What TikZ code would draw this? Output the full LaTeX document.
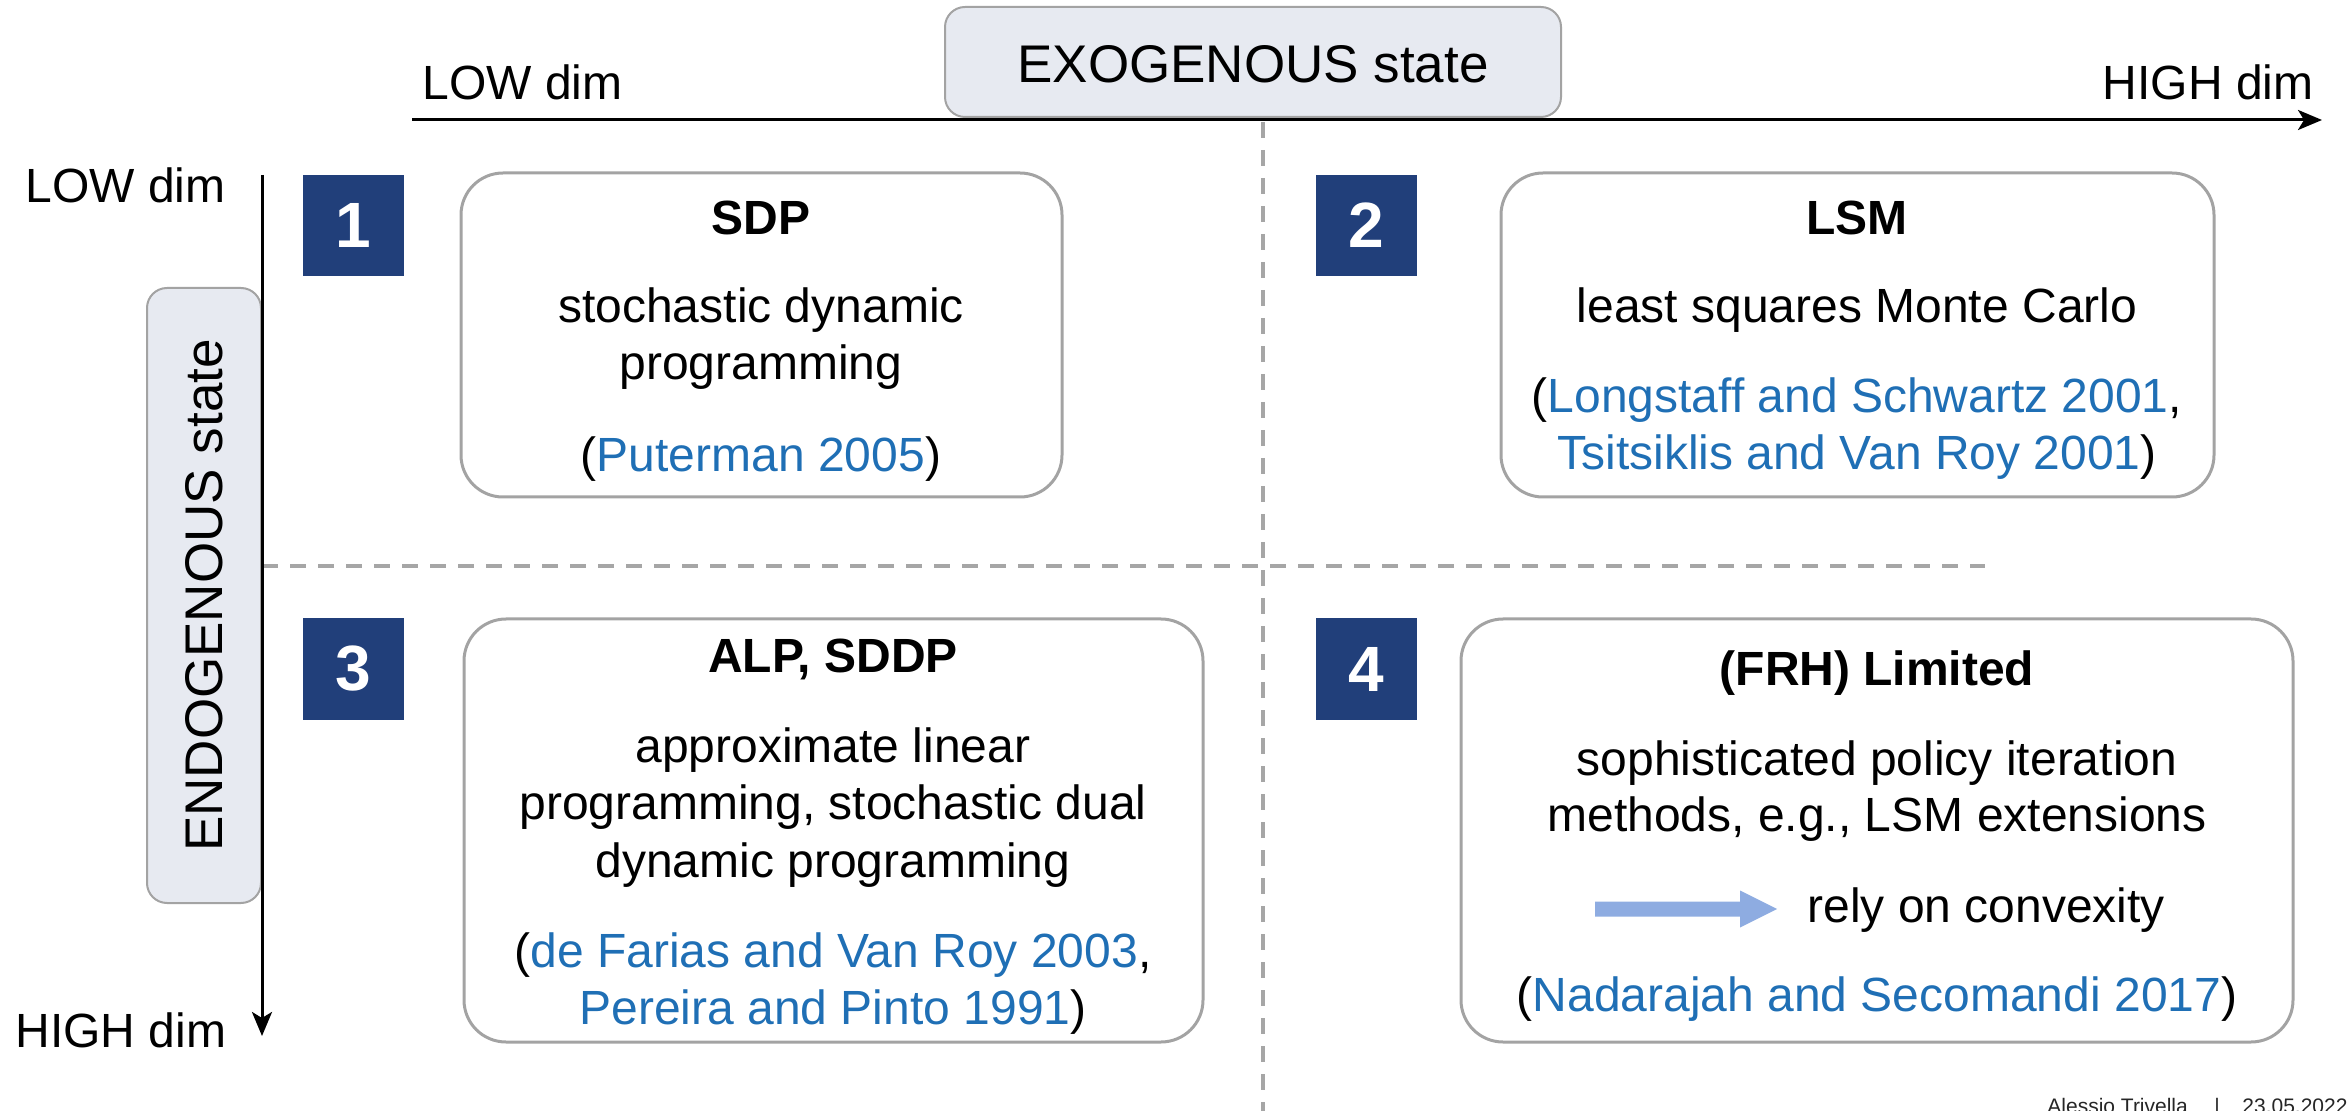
\documentclass[tikz,border=0pt]{standalone}
\usepackage{fontspec}
\setmainfont{Liberation Sans}
\usetikzlibrary{arrows.meta}
\definecolor{navy}{HTML}{213F7A}
\definecolor{lblfill}{HTML}{E7EAF1}
\definecolor{boxgray}{HTML}{A3A3A3}
\definecolor{citeblue}{HTML}{1F6FB5}
\definecolor{arrowblue}{HTML}{8EACE1}
\definecolor{dashgray}{HTML}{A6A6A6}
\newcommand{\cit}[1]{\textcolor{citeblue}{#1}}
\begin{document}
\begin{tikzpicture}[x=0.5pt,y=-0.5pt,
  txt/.style={font=\fontsize{24}{28}\selectfont, inner sep=0pt, anchor=base},
  numbox/.style={fill=navy, minimum size=50.5pt, inner sep=0pt, text=white, font=\fontsize{32}{36}\selectfont\bfseries},
  card/.style={draw=boxgray, line width=1.5pt, rounded corners=21pt, inner sep=0pt},
  lbl/.style={draw=boxgray, fill=lblfill, line width=1pt, rounded corners=10pt, inner sep=0pt, font=\fontsize{26.5}{30}\selectfont},
  axis/.style={line width=1.5pt, -{Stealth[length=12pt,width=10pt,inset=3pt]}},
  grid/.style={dashgray, line width=2pt, dash pattern=on 8pt off 6pt}
]
\useasboundingbox (0,0) rectangle (2349,1111);
\clip (0,0) rectangle (2349,1111);

% dashed quadrant separators
\coordinate (vtop) at (1263,122);
\coordinate (vbot) at (1263,1111);
\coordinate (hl) at (262,566);
\coordinate (hr) at (1985,566);
\draw[grid] (vtop) -- (vbot);
\draw[grid] (hl) -- (hr);

% axis labels boxes
\node[lbl, minimum width=308pt, minimum height=55pt] (exo) at (1253,62) {};
\node[font=\fontsize{26.5}{30}\selectfont, inner sep=0pt] (exot) at (1253,64) {EXOGENOUS state};
\node[lbl, minimum width=307.5pt, minimum height=57pt, rotate=90] (endo) at (204,595.5) {ENDOGENOUS state};

% axes
\coordinate (xs) at (412,120);
\coordinate (xe) at (2322,120);
\coordinate (ys) at (262,175);
\coordinate (ye) at (262,1036);
\draw[axis] (xs) -- (xe);
\draw[axis] (ys) -- (ye);

\node[txt, anchor=base west] (xlow) at (422,100) {LOW dim};
\node[txt, anchor=base east] (xhigh) at (2314,100) {HIGH dim};
\node[txt, anchor=base west] (ylow) at (25,203) {LOW dim};
\node[txt, anchor=base west] (yhigh) at (15,1047) {HIGH dim};

% number boxes
\node[numbox] (n1) at (353.5,225.5) {1};
\node[numbox] (n2) at (1366,225.5) {2};
\node[numbox] (n3) at (353.5,669) {3};
\node[numbox] (n4) at (1366,669) {4};

% cards
\node[card, minimum width=300.5pt, minimum height=162pt] (c1) at (761.5,335) {};
\node[card, minimum width=356.5pt, minimum height=162pt] (c2) at (1857.5,335) {};
\node[card, minimum width=369.5pt, minimum height=211.5pt] (c3) at (833.5,830.5) {};
\node[card, minimum width=416pt, minimum height=211.5pt] (c4) at (1877,830.5) {};

% card 1
\node[txt] (t1a) at (761,235) {\bfseries SDP};
\node[txt] (t1b) at (761,323) {stochastic dynamic};
\node[txt] (t1c) at (761,380) {programming};
\node[txt] (t1d) at (761,472) {(\cit{Puterman 2005})};

% card 2
\node[txt] (t2a) at (1857,235) {\bfseries LSM};
\node[txt] (t2b) at (1857,323) {least squares Monte Carlo};
\node[txt] (t2c) at (1857,413) {(\cit{Longstaff and Schwartz 2001},};
\node[txt] (t2d) at (1857,470) {\cit{Tsitsiklis and Van Roy 2001})};

% card 3
\node[txt] (t3a) at (833,673) {\bfseries ALP, SDDP};
\node[txt] (t3b) at (833,762) {approximate linear};
\node[txt] (t3c) at (833,819) {programming, stochastic dual};
\node[txt] (t3d) at (833,877) {dynamic programming};
\node[txt] (t3e) at (833,967) {(\cit{de Farias and Van Roy 2003},};
\node[txt] (t3f) at (833,1024) {\cit{Pereira and Pinto 1991})};

% card 4
\node[txt] (t4a) at (1877,685) {\bfseries (FRH) Limited};
\node[txt] (t4b) at (1877,775) {sophisticated policy iteration};
\node[txt] (t4c) at (1877,831) {methods, e.g., LSM extensions};
\node[txt, anchor=base west] (t4d) at (1807,922) {rely on convexity};
\node[txt] (t4e) at (1877,1011) {(\cit{Nadarajah and Secomandi 2017})};
\fill[arrowblue] (1595,901.5) -- (1740,901.5) -- (1740,890.5) -- (1777,909)
  -- (1740,927.5) -- (1740,916.5) -- (1595,916.5) -- cycle;

% footer
\node[font=\fontsize{10.5}{12}\selectfont, text=black!85, inner sep=0pt, anchor=base west] (foot1) at (2047,1113) {Alessio Trivella};
\node[font=\fontsize{10.5}{12}\selectfont, text=black!85, inner sep=0pt, anchor=base] (foot2) at (2217,1113) {|};
\node[font=\fontsize{10.5}{12}\selectfont, text=black!85, inner sep=0pt, anchor=base west] (foot3) at (2242,1113) {23.05.2022};
\end{tikzpicture}
\end{document}
